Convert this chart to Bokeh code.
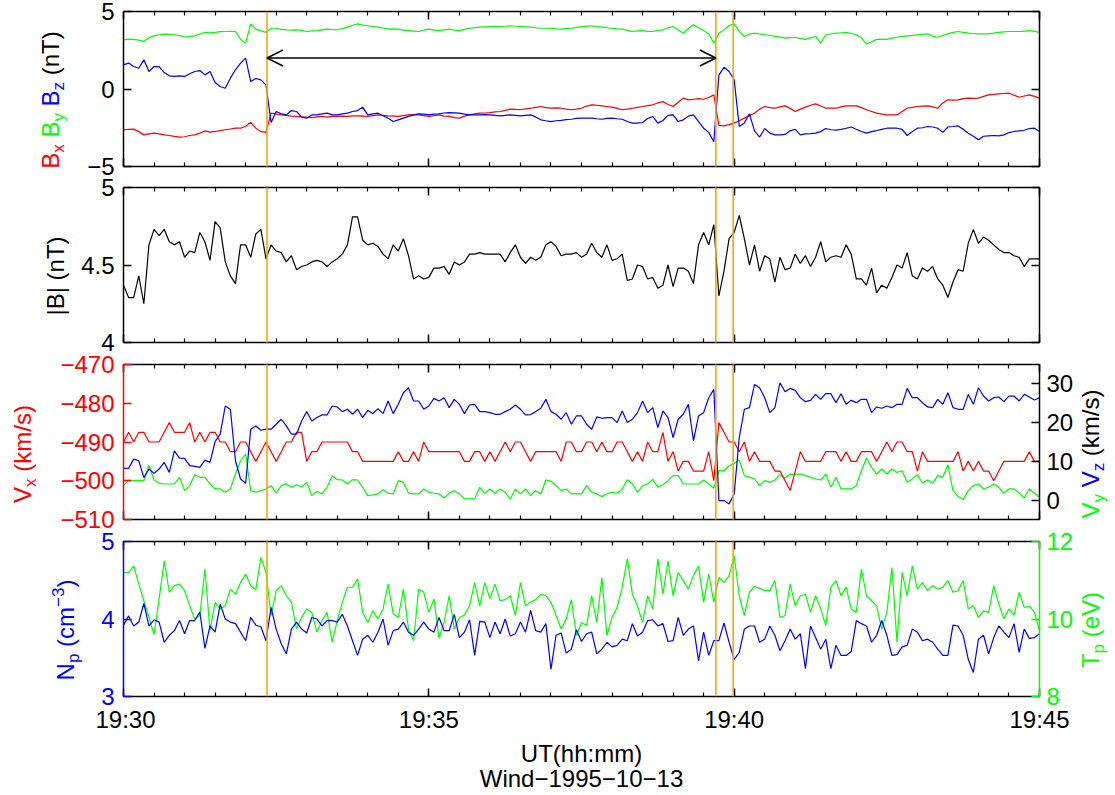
import math
import numpy as np
from bokeh.plotting import figure
from bokeh.layouts import column, row
from bokeh.models import Range1d, LinearAxis, FixedTicker, Arrow, OpenHead, Label
from bokeh.embed import file_html
from bokeh.resources import INLINE

# ---------------- data (sampled every 5 s from 19:30:00) ----------------
DT_SEC = 5
bx = [-2.63, -2.60, -2.59, -2.75, -2.96, -2.90, -2.85, -2.90, -2.96, -3.00,
      -3.06, -3.10, -3.08, -3.00, -2.96, -2.85, -2.70, -2.78, -2.74, -2.68,
      -2.63, -2.58, -2.53, -2.53, -2.40, -2.15, -2.53, -2.75, -2.80, -1.56,
      -1.60, -1.67, -1.70, -1.75, -1.77, -1.80, -1.82, -1.85, -1.80, -1.77,
      -1.82, -1.77, -1.77, -1.75, -1.77, -1.73, -1.73, -1.75, -1.77, -1.72,
      -1.67, -1.70, -1.73, -1.75, -1.77, -1.72, -1.67, -1.65, -1.67, -1.72,
      -1.77, -1.72, -1.67, -1.75, -1.77, -1.85, -1.88, -1.75, -1.67, -1.60,
      -1.56, -1.55, -1.52, -1.48, -1.45, -1.38, -1.30, -1.32, -1.34, -1.28,
      -1.24, -1.18, -1.13, -1.20, -1.24, -1.22, -1.24, -1.30, -1.34, -1.30,
      -1.24, -1.10, -1.02, -1.05, -1.09, -1.13, -1.17, -1.25, -1.34, -1.30,
      -1.24, -1.18, -1.13, -1.07, -1.02, -0.90, -0.81, -1.00, -1.13, -0.85,
      -0.59, -0.70, -0.66, -0.62, -0.66, -0.55, -0.38, -2.35, -2.38, -2.30,
      -2.20, -2.05, -1.88, -1.72, -1.56, -1.30, -1.13, -1.20, -1.24, -1.15,
      -1.09, -1.25, -1.45, -1.30, -1.17, -1.05, -0.96, -1.10, -1.24, -1.24,
      -1.24, -1.15, -1.09, -1.09, -1.09, -1.20, -1.34, -1.45, -1.56, -1.62,
      -1.67, -1.67, -1.67, -1.45, -1.24, -1.18, -1.13, -1.10, -1.09, -1.15,
      -1.24, -0.90, -0.70, -0.72, -0.70, -0.62, -0.59, -0.60, -0.59, -0.48,
      -0.38, -0.35, -0.31, -0.29, -0.27, -0.40, -0.53, -0.45, -0.38, -0.48,
      -0.59]
by = [3.17, 3.22, 3.20, 3.15, 3.06, 3.30, 3.43, 3.50, 3.54, 3.52,
      3.50, 3.45, 3.34, 3.40, 3.43, 3.55, 3.65, 3.62, 3.65, 3.70,
      3.71, 3.72, 3.71, 3.20, 2.96, 4.20, 3.86, 3.75, 3.65, 3.92,
      3.92, 3.85, 3.82, 3.80, 3.82, 3.78, 3.71, 3.75, 3.77, 3.82,
      3.86, 3.84, 3.82, 3.90, 3.99, 4.10, 4.20, 4.12, 4.08, 4.02,
      3.99, 3.92, 3.86, 3.88, 3.86, 3.80, 3.77, 3.74, 3.71, 3.80,
      3.86, 3.80, 3.77, 3.82, 3.86, 3.80, 3.77, 3.85, 3.92, 3.96,
      3.99, 4.01, 4.03, 4.05, 4.03, 4.05, 4.08, 4.05, 4.03, 4.01,
      3.99, 3.95, 3.92, 3.92, 3.92, 3.88, 3.86, 3.90, 3.92, 3.98,
      4.03, 4.06, 4.08, 4.03, 3.99, 3.95, 3.92, 3.88, 3.86, 3.78,
      3.71, 3.75, 3.77, 3.72, 3.71, 3.78, 3.82, 3.95, 4.03, 3.80,
      3.60, 3.90, 4.14, 3.95, 3.77, 3.55, 2.95, 3.60, 3.82, 4.10,
      4.20, 3.70, 3.39, 3.55, 3.60, 3.55, 3.50, 3.45, 3.39, 3.35,
      3.28, 3.32, 3.34, 3.25, 3.20, 3.30, 3.39, 2.96, 3.50, 3.55,
      3.60, 3.62, 3.65, 3.58, 3.50, 3.30, 2.90, 3.05, 3.20, 3.22,
      3.20, 3.28, 3.34, 3.40, 3.43, 3.46, 3.50, 3.53, 3.56, 3.40,
      3.34, 3.45, 3.56, 3.65, 3.71, 3.65, 3.60, 3.58, 3.56, 3.56,
      3.56, 3.60, 3.65, 3.68, 3.71, 3.71, 3.71, 3.74, 3.77, 3.72,
      3.65]
bz = [1.56, 1.67, 1.45, 1.34, 1.88, 1.13, 1.45, 1.45, 1.06, 0.85,
      0.81, 0.85, 0.81, 0.98, 1.13, 1.19, 0.91, 1.13, 0.42, 0.16,
      0.05, 0.70, 1.24, 1.67, 1.99, 0.48, 0.68, 0.59, 0.27, -2.16,
      -1.45, -1.60, -1.67, -1.39, -1.45, -1.82, -1.88, -1.67, -1.67, -1.60,
      -1.56, -1.67, -1.67, -1.60, -1.56, -1.45, -1.39, -1.17, -1.67, -1.60,
      -1.56, -1.73, -1.88, -2.10, -1.99, -1.88, -1.77, -1.67, -1.60, -1.62,
      -1.67, -1.62, -1.60, -1.55, -1.52, -1.54, -1.56, -1.62, -1.67, -1.67,
      -1.67, -1.65, -1.67, -1.70, -1.73, -1.70, -1.67, -1.70, -1.73, -1.70,
      -1.67, -1.80, -1.99, -2.05, -2.10, -2.05, -2.03, -1.98, -1.95, -1.90,
      -1.88, -1.88, -1.88, -1.92, -1.95, -1.90, -1.88, -1.92, -1.95, -2.10,
      -2.20, -2.20, -2.16, -1.90, -1.77, -2.20, -2.03, -1.70, -1.67, -2.10,
      -1.99, -1.75, -1.67, -2.10, -2.53, -2.80, -3.40, 0.90, 1.40, 1.13,
      0.60, -2.42, -2.20, -1.60, -2.70, -3.10, -2.55, -2.85, -2.96, -2.96,
      -2.93, -2.70, -2.60, -2.96, -2.90, -2.88, -2.85, -2.75, -2.55, -2.63,
      -2.65, -2.60, -2.53, -2.45, -2.60, -2.74, -2.85, -2.75, -2.68, -2.60,
      -2.53, -2.53, -2.53, -2.60, -3.00, -2.75, -2.53, -2.50, -2.42, -2.45,
      -2.53, -2.80, -2.45, -2.42, -2.38, -2.60, -2.85, -3.05, -3.28, -3.05,
      -3.02, -3.00, -3.02, -2.96, -2.81, -2.74, -2.70, -2.66, -2.55, -2.53,
      -2.74]
bmag = [4.37, 4.29, 4.29, 4.43, 4.25, 4.63, 4.73, 4.69, 4.73, 4.65,
        4.63, 4.65, 4.55, 4.59, 4.58, 4.71, 4.65, 4.53, 4.78, 4.74,
        4.52, 4.43, 4.38, 4.63, 4.63, 4.55, 4.70, 4.73, 4.54, 4.63,
        4.59, 4.58, 4.52, 4.56, 4.47, 4.49, 4.50, 4.52, 4.53, 4.52,
        4.49, 4.52, 4.54, 4.57, 4.63, 4.81, 4.81, 4.66, 4.63, 4.64,
        4.62, 4.57, 4.54, 4.63, 4.59, 4.67, 4.56, 4.41, 4.43, 4.41,
        4.42, 4.48, 4.48, 4.49, 4.44, 4.52, 4.50, 4.52, 4.57, 4.57,
        4.58, 4.57, 4.57, 4.57, 4.57, 4.52, 4.58, 4.63, 4.55, 4.51,
        4.55, 4.53, 4.55, 4.63, 4.65, 4.62, 4.56, 4.57, 4.57, 4.58,
        4.55, 4.57, 4.64, 4.58, 4.55, 4.63, 4.53, 4.54, 4.57, 4.40,
        4.41, 4.50, 4.49, 4.41, 4.42, 4.35, 4.37, 4.50, 4.36, 4.48,
        4.48, 4.46, 4.38, 4.63, 4.71, 4.63, 4.76, 4.30, 4.46, 4.67,
        4.71, 4.82, 4.67, 4.50, 4.63, 4.46, 4.56, 4.54, 4.39, 4.55,
        4.47, 4.48, 4.57, 4.51, 4.56, 4.49, 4.55, 4.65, 4.52, 4.55,
        4.56, 4.55, 4.63, 4.57, 4.41, 4.41, 4.37, 4.48, 4.32, 4.37,
        4.35, 4.42, 4.50, 4.48, 4.58, 4.43, 4.41, 4.48, 4.46, 4.49,
        4.41, 4.37, 4.29, 4.39, 4.47, 4.46, 4.64, 4.73, 4.64, 4.68,
        4.66, 4.63, 4.60, 4.58, 4.58, 4.56, 4.55, 4.49, 4.54, 4.54,
        4.54]
vx = [-490, -487.5, -490, -487.5, -487.5, -490, -490, -490, -487.5, -485,
      -487.5, -487.5, -487.5, -485, -490, -487.5, -490, -487.5, -487.5, -490,
      -490, -492.5, -492.5, -490, -490, -492.5, -495, -492.5, -490, -492.5,
      -495, -492.5, -490, -490, -487.5, -487.5, -495, -492.5, -492.5, -490,
      -490, -490, -490, -490, -490, -492.5, -492.5, -495, -495, -495,
      -495, -495, -495, -495, -492.5, -495, -495, -492.5, -495, -490,
      -492.5, -492.5, -492.5, -492.5, -492.5, -492.5, -492.5, -495, -495, -492.5,
      -492.5, -495, -492.5, -495, -492.5, -490, -492.5, -490, -490, -492.5,
      -495, -492.5, -492.5, -492.5, -492.5, -492.5, -495, -490, -490, -492.5,
      -492.5, -490, -490, -492.5, -490, -492.5, -492.5, -490, -490, -492.5,
      -495, -492.5, -495, -490, -492.5, -492.5, -487.5, -495, -492.5, -497.5,
      -495, -495, -497.5, -497.5, -497.5, -492.5, -500, -485, -487.5, -490,
      -490, -492.5, -490, -495, -492.5, -495, -495, -495, -497.5, -497.5,
      -500, -502.5, -497.5, -492.5, -495, -495, -495, -495, -492.5, -492.5,
      -492.5, -495, -492.5, -495, -495, -492.5, -492.5, -492.5, -495, -492.5,
      -490, -492.5, -490, -490, -492.5, -492.5, -497.5, -492.5, -495, -495,
      -495, -495, -495, -495, -492.5, -497.5, -495, -497.5, -495, -497.5,
      -497.5, -500, -497.5, -495, -495, -495, -495, -495, -492.5, -495,
      -495]
vy = [3.74, 5.11, 5.02, 5.11, 5.02, 9.00, 5.19, 4.34, 4.16, 4.16,
      4.16, 5.88, 2.45, 3.74, 6.56, 5.88, 5.88, 4.16, 2.88, 2.88,
      2.02, 2.88, 6.73, 10.16, 11.87, 2.45, 2.02, 2.45, 2.88, 3.74,
      1.77, 3.74, 4.16, 3.31, 3.99, 3.31, 4.59, 1.17, 2.28, 1.60,
      3.31, 6.31, 5.28, 5.19, 4.16, 5.28, 5.19, 3.31, 1.17, 1.34,
      1.60, 2.71, 1.77, 1.60, 5.02, 4.59, 1.77, 1.60, 1.60, 2.88,
      2.02, 1.77, 1.60, 0.57, 1.77, 2.45, 1.60, 0.31, 0.31, 0.31,
      3.31, 1.77, 2.88, 1.77, 2.88, 2.02, 0.22, 2.88, 1.60, 2.88,
      1.17, 2.45, 1.60, 5.19, 4.85, 3.74, 2.45, 2.88, 1.60, 1.60,
      1.60, 3.74, 2.02, 1.60, 0.91, 1.60, 2.02, 1.77, 2.88, 5.28,
      4.16, 2.02, 3.74, 4.16, 5.36, 3.31, 3.99, 5.02, 6.31, 6.31,
      4.16, 4.16, 4.16, 4.16, 5.19, 4.16, 3.05, 7.59, 7.59, 8.88,
      9.48, 10.33, 6.31, 5.88, 5.45, 3.74, 5.02, 4.59, 5.19, 6.56,
      5.71, 6.73, 6.56, 6.73, 6.31, 5.88, 5.45, 5.19, 6.73, 3.31,
      5.88, 2.88, 2.88, 2.88, 3.74, 7.59, 10.85, 8.45, 6.73, 8.02,
      6.73, 8.02, 7.16, 7.59, 4.59, 5.45, 6.56, 4.34, 5.19, 4.34,
      6.31, 5.88, 9.13, 2.45, 0.91, 0.14, 2.45, 3.74, 4.16, 2.88,
      3.31, 4.16, 3.31, 1.77, 2.88, 2.88, 1.77, 0.57, 2.88, 1.77,
      0.74]
vz = [8.19, 8.19, 10.59, 10.16, 5.80, 8.02, 6.91, 8.02, 9.73, 7.16,
      12.73, 10.85, 10.76, 8.88, 8.70, 8.45, 10.33, 9.73, 15.13, 17.01,
      24.29, 23.44, 10.16, 5.45, 4.34, 18.30, 19.15, 18.04, 18.30, 18.30,
      19.58, 20.87, 19.15, 17.01, 17.01, 20.44, 22.84, 20.44, 21.30, 21.98,
      21.98, 24.29, 24.04, 22.84, 23.44, 22.15, 23.44, 21.30, 23.18, 22.32,
      23.61, 22.32, 25.58, 22.32, 24.72, 27.72, 29.00, 25.58, 25.58, 23.44,
      24.29, 26.26, 25.58, 26.43, 23.87, 26.01, 24.72, 22.32, 24.55, 24.72,
      22.84, 22.84, 22.58, 22.15, 22.15, 22.84, 23.44, 24.55, 23.44, 21.98,
      22.07, 22.84, 23.70, 26.01, 22.84, 22.15, 20.87, 22.58, 19.58, 21.72,
      21.72, 19.58, 18.30, 21.47, 21.12, 21.30, 21.30, 20.01, 23.01, 20.01,
      20.87, 22.58, 25.58, 22.58, 23.87, 18.73, 23.01, 21.30, 16.16, 20.87,
      22.15, 24.72, 15.30, 21.72, 22.58, 26.43, 28.58, -0.12, -0.12, -0.97,
      1.60, 16.16, 23.44, 23.87, 29.86, 29.00, 26.43, 22.58, 23.87, 30.29,
      27.98, 28.83, 28.32, 26.43, 25.41, 25.75, 27.29, 26.01, 27.46, 27.46,
      25.15, 27.46, 24.72, 25.75, 25.15, 26.01, 26.01, 22.58, 24.04, 23.70,
      24.29, 23.87, 24.72, 24.72, 28.83, 26.43, 26.43, 25.15, 24.04, 23.87,
      26.01, 24.72, 27.72, 23.87, 23.44, 23.44, 27.29, 24.72, 29.00, 26.86,
      25.58, 26.43, 26.61, 25.41, 26.86, 26.86, 25.58, 27.29, 26.61, 25.83,
      26.43]
n_p = [3.92, 4.04, 3.91, 3.96, 4.20, 3.91, 3.99, 3.96, 3.70, 3.79,
       3.85, 3.98, 3.81, 3.98, 3.98, 4.09, 3.62, 3.91, 3.83, 4.19,
       4.00, 3.96, 3.94, 3.83, 3.72, 4.02, 3.92, 3.90, 3.72, 4.15,
       3.87, 3.68, 3.55, 3.87, 3.96, 3.87, 3.82, 4.02, 4.00, 3.91,
       3.98, 3.98, 3.96, 4.06, 3.91, 3.72, 3.53, 3.74, 3.79, 3.70,
       3.83, 4.00, 3.66, 3.85, 3.87, 3.96, 3.83, 3.79, 3.87, 3.96,
       3.87, 3.83, 4.02, 3.85, 3.85, 4.06, 3.76, 3.83, 3.99, 3.53,
       3.97, 3.96, 3.76, 3.96, 3.81, 4.00, 3.78, 3.81, 3.96, 3.83,
       4.11, 3.85, 3.83, 3.94, 3.35, 3.79, 3.82, 3.56, 3.61, 3.86,
       3.71, 3.81, 3.83, 3.55, 3.61, 3.70, 3.64, 3.66, 3.74, 3.72,
       3.94, 3.78, 3.83, 3.98, 3.99, 3.91, 3.94, 3.71, 3.72, 4.02,
       3.79, 3.87, 3.91, 3.46, 3.83, 3.53, 3.72, 3.72, 3.95, 3.70,
       3.48, 3.57, 3.87, 3.91, 3.91, 3.70, 3.74, 3.91, 3.79, 3.59,
       3.72, 3.87, 3.74, 3.81, 3.36, 3.91, 3.76, 3.61, 3.74, 3.36,
       3.66, 3.53, 3.53, 3.58, 3.98, 3.94, 3.91, 3.70, 3.79, 3.98,
       3.79, 3.53, 3.54, 3.64, 3.66, 3.87, 3.83, 3.72, 3.74, 3.70,
       3.61, 3.53, 3.53, 3.92, 3.91, 3.79, 3.48, 3.31, 3.74, 3.79,
       3.55, 3.76, 3.91, 3.83, 3.76, 3.94, 3.57, 3.87, 3.75, 3.76,
       3.81]
t_p = [11.20, 11.20, 11.37, 10.90, 10.47, 10.04, 9.60, 10.52, 11.50, 10.69,
       10.86, 10.90, 10.73, 10.34, 10.00, 10.09, 11.29, 9.70, 10.43, 10.26,
       10.34, 10.77, 10.64, 10.94, 11.16, 10.86, 10.75, 11.59, 11.20, 10.09,
       10.73, 10.86, 10.60, 10.43, 9.74, 10.04, 10.26, 10.17, 9.66, 9.96,
       10.17, 9.40, 9.96, 10.43, 10.82, 10.82, 11.03, 10.17, 9.91, 10.21,
       10.00, 10.26, 10.90, 10.13, 10.04, 10.77, 9.74, 9.44, 10.77, 10.69,
       10.17, 10.52, 9.50, 9.91, 10.60, 9.74, 10.04, 10.10, 10.34, 10.94,
       10.34, 10.94, 10.52, 10.90, 10.47, 10.50, 10.60, 10.09, 10.94, 10.34,
       10.43, 10.50, 10.64, 10.60, 10.43, 10.09, 9.74, 10.00, 10.50, 9.57,
       9.91, 9.83, 10.60, 9.91, 11.07, 9.57, 10.04, 10.30, 10.82, 11.55,
       10.64, 10.34, 9.91, 10.60, 10.26, 11.55, 10.64, 11.50, 10.60, 11.20,
       10.99, 10.77, 11.12, 11.37, 10.43, 11.16, 10.43, 11.07, 10.94, 11.12,
       11.63, 10.60, 10.09, 10.69, 10.84, 10.79, 10.73, 10.73, 10.99, 10.04,
       10.09, 10.90, 10.34, 10.60, 10.64, 10.17, 10.60, 10.26, 9.83, 10.82,
       10.99, 10.60, 10.82, 10.26, 10.17, 11.29, 10.60, 10.47, 10.34, 9.74,
       10.17, 11.33, 9.40, 11.20, 10.60, 11.37, 10.77, 10.94, 10.73, 10.86,
       10.77, 10.82, 10.99, 10.69, 10.73, 10.99, 10.26, 10.34, 10.04, 10.21,
       10.17, 10.86, 10.39, 10.00, 10.26, 10.10, 10.69, 10.30, 10.33, 10.17,
       9.70]
event_times = ["19:32:21", "19:39:42", "19:39:59"]
arrow_times = ["19:32:21", "19:39:42"]
arrow_level = 2.0
xtick_vals = [0, 5, 10, 15]
xtick_labels = ["19:30", "19:35", "19:40", "19:45"]

# ---------------- styling / layout ----------------
FONT = "Liberation Sans"
FS, FSUB = 24, 17
MID = 0.3465            # observed offset (em) between the label anchor and the baseline
FRAME_L, FW, FH = 123, 916, 155
SPLIT_R = 1076
PAGE_W = 1115
RED, GRN, BLU, BLK, ORG = "#ff0000", "#00ff00", "#0000ff", "#000000", "#ffa500"

def hms_to_min(s):
    h, m, sec = (int(v) for v in s.split(":"))
    return (h * 3600 + m * 60 + sec - (19 * 3600 + 30 * 60)) / 60.0

def tgrid(series):
    return np.arange(len(series)) * DT_SEC / 60.0

xr = Range1d(0, 15)

def clean(p):
    p.outline_line_color = None
    p.background_fill_color = "white"
    p.border_fill_color = "white"
    p.xgrid.visible = False
    p.ygrid.visible = False

def base_fig(ylo, yhi, top, bottom, split_l):
    p = figure(frame_width=FW, frame_height=FH, x_range=xr, y_range=Range1d(ylo, yhi),
               x_axis_location=None, y_axis_location=None, output_backend="svg",
               toolbar_location=None, title=None, min_border_left=FRAME_L - split_l,
               min_border_right=SPLIT_R - FRAME_L - FW, min_border_top=top,
               min_border_bottom=bottom)
    clean(p)
    return p

def text_fig(width, height):
    f = figure(frame_width=width, frame_height=height, x_range=Range1d(0, 1),
               y_range=Range1d(0, 1), x_axis_location=None, y_axis_location=None,
               output_backend="svg", toolbar_location=None, title=None,
               min_border=0, min_border_left=0, min_border_right=0,
               min_border_top=0, min_border_bottom=0)
    clean(f)
    return f

def hide_labels(ax):
    ax.major_label_text_color = None
    ax.major_label_text_font_size = "1px"
    ax.major_label_standoff = 0

def add_xaxes(p, labels=False):
    minors = [i * 0.5 for i in range(31)]
    for loc in ("above", "below"):
        ax = LinearAxis(ticker=FixedTicker(ticks=xtick_vals, minor_ticks=minors))
        ax.major_tick_in, ax.major_tick_out = 8, 0
        ax.minor_tick_in, ax.minor_tick_out = 4, 0
        ax.axis_line_width = 1.5
        ax.major_tick_line_width = 1.5
        ax.minor_tick_line_width = 1.2
        if labels and loc == "below":
            ax.major_label_overrides = dict(zip(xtick_vals, xtick_labels))
            ax.major_label_text_font = FONT
            ax.major_label_text_font_size = f"{FS}px"
            ax.major_label_text_color = BLK
            ax.major_label_standoff = 9
        else:
            hide_labels(ax)
        p.add_layout(ax, loc)

def add_yaxis(p, loc, ticks, labels, color, rname="default", standoff=9):
    ax = LinearAxis(ticker=FixedTicker(ticks=ticks), y_range_name=rname)
    ax.axis_line_color = color
    ax.axis_line_width = 1.5
    ax.major_tick_line_color = color
    ax.major_tick_line_width = 1.5
    ax.major_tick_in, ax.major_tick_out = 8, 0
    ax.minor_tick_line_color = None
    if labels:
        ax.major_label_overrides = dict(zip(ticks, labels))
        ax.major_label_text_font = FONT
        ax.major_label_text_font_size = f"{FS}px"
        ax.major_label_text_color = color
        ax.major_label_standoff = standoff
    else:
        hide_labels(ax)
    p.add_layout(ax, loc)

CW = {'B': 667, 'x': 500, 'y': 500, 'z': 500, ' ': 278, '(': 333, ')': 333, 'n': 556,
      'T': 611, '|': 260, 'V': 667, 'k': 500, 'm': 833, 's': 500, '/': 278, 'N': 722,
      'p': 556, 'c': 500, '\u2212': 584, '3': 556, 'e': 556}

def tlen(s, size):
    return sum(CW[c] for c in s) * size / 1000.0

def vtitle(f, pieces, xb, yc):
    sizes = [FS if k == 0 else FSUB for _, _, k in pieces]
    total = sum(tlen(s, sz) for (s, _, _), sz in zip(pieces, sizes))
    y = yc - total / 2
    for (s, col, k), sz in zip(pieces, sizes):
        dx = {0: 0, 1: 6, 2: -10}[k]
        if s.strip():
            f.add_layout(Label(x=xb + dx - MID * sz, y=y, x_units="screen", y_units="screen",
                               text=s, angle=math.pi / 2, text_font=FONT,
                               text_font_size=f"{sz}px", text_color=col, text_align="left",
                               text_baseline="alphabetic"))
        y += tlen(s, sz)

def add_events(p, ylo, yhi, top_ext=True, bot_ext=True):
    span = yhi - ylo
    y0 = yhi + (0.3 * span if top_ext else 0)
    y1 = ylo - (0.3 * span if bot_ext else 0)
    for s in event_times:
        xm = hms_to_min(s)
        p.add_layout(Arrow(end=None, start=None, x_start=xm, y_start=y0, x_end=xm, y_end=y1,
                           line_color=ORG, line_width=1.6))

def panel_row(p, top, bottom, split_l, left_pieces, left_x, right_pieces=None):
    h = top + FH + bottom
    yc = bottom + FH / 2
    lf = text_fig(split_l, h)
    vtitle(lf, left_pieces, left_x, yc)
    rf = text_fig(PAGE_W - SPLIT_R, h)
    if right_pieces:
        vtitle(rf, right_pieces, 1098 - SPLIT_R, yc)
    return row(lf, p, rf, spacing=0)

# ---------------- panel 1 : B components ----------------
T1, B1, S1 = 11, 10, 75
p1 = base_fig(-5, 5, T1, B1, S1)
p1.line(tgrid(bx), bx, line_color=RED, line_width=1.2)
p1.line(tgrid(by), by, line_color=GRN, line_width=1.2)
p1.line(tgrid(bz), bz, line_color=BLU, line_width=1.2)
add_xaxes(p1)
add_yaxis(p1, "left", [-5, 0, 5], ["\u22125", "0", "5"], BLK)
add_yaxis(p1, "right", [-5, 0, 5], None, BLK)
add_events(p1, -5, 5, top_ext=False)
a1, a2 = (hms_to_min(s) for s in arrow_times)
p1.add_layout(Arrow(start=OpenHead(size=16, line_width=1.5), end=OpenHead(size=16, line_width=1.5),
                    x_start=a1, y_start=arrow_level, x_end=a2, y_end=arrow_level,
                    line_width=1.5, line_color=BLK))
r1 = panel_row(p1, T1, B1, S1,
               [("B", RED, 0), ("x", RED, 1), (" ", BLK, 0), ("B", GRN, 0), ("y", GRN, 1),
                (" ", BLK, 0), ("B", BLU, 0), ("z", BLU, 1), (" ", BLK, 0), ("(nT)", BLK, 0)], 58)

# ---------------- panel 2 : |B| ----------------
T2, B2, S2 = 11, 10, 76
p2 = base_fig(4, 5, T2, B2, S2)
p2.line(tgrid(bmag), bmag, line_color=BLK, line_width=1.2)
add_xaxes(p2)
add_yaxis(p2, "left", [4, 4.5, 5], ["4", "4.5", "5"], BLK)
add_yaxis(p2, "right", [4, 4.5, 5], None, BLK)
add_events(p2, 4, 5)
r2 = panel_row(p2, T2, B2, S2, [("|B| (nT)", BLK, 0)], 63)

# ---------------- panel 3 : velocity ----------------
T3, B3, S3 = 12, 11, 52
p3 = base_fig(-510, -470, T3, B3, S3)
p3.extra_y_ranges = {"v": Range1d(-5, 35)}
p3.line(tgrid(vy), vy, line_color=GRN, line_width=1.2, y_range_name="v")
p3.line(tgrid(vx), vx, line_color=RED, line_width=1.2)
p3.line(tgrid(vz), vz, line_color=BLU, line_width=1.2, y_range_name="v")
add_xaxes(p3)
add_yaxis(p3, "left", [-510, -500, -490, -480, -470],
          ["\u2212510", "\u2212500", "\u2212490", "\u2212480", "\u2212470"], RED)
add_yaxis(p3, "right", [0, 10, 20, 30], ["0", "10", "20", "30"], BLK, rname="v", standoff=7)
add_events(p3, -510, -470)
r3 = panel_row(p3, T3, B3, S3,
               [("V", RED, 0), ("x", RED, 1), (" ", RED, 0), ("(km/s)", RED, 0)], 30,
               [("V", GRN, 0), ("y", GRN, 1), (" ", BLK, 0), ("V", BLU, 0), ("z", BLU, 1),
                (" ", BLK, 0), ("(km/s)", BLK, 0)])

# ---------------- panel 4 : density / temperature ----------------
T4, B4, S4 = 11, 48, 95
p4 = base_fig(3, 5, T4, B4, S4)
p4.extra_y_ranges = {"t": Range1d(8, 12)}
p4.line(tgrid(t_p), t_p, line_color=GRN, line_width=1.2, y_range_name="t")
p4.line(tgrid(n_p), n_p, line_color=BLU, line_width=1.2)
add_xaxes(p4, labels=True)
add_yaxis(p4, "left", [3, 4, 5], ["3", "4", "5"], BLU)
add_yaxis(p4, "right", [8, 10, 12], ["8", "10", "12"], GRN, rname="t", standoff=7)
add_events(p4, 3, 5, bot_ext=False)
r4 = panel_row(p4, T4, B4, S4,
               [("N", BLU, 0), ("p", BLU, 1), (" ", BLU, 0), ("(cm", BLU, 0), ("\u22123", BLU, 2),
                (")", BLU, 0)], 73,
               [("T", GRN, 0), ("p", GRN, 1), (" ", GRN, 0), ("(eV)", GRN, 0)])

# ---------------- x title strip ----------------
STRIP_H = 48
strip = text_fig(PAGE_W, STRIP_H)
for txt, base_from_bottom in (("UT(hh:mm)", 30.5), ("Wind\u22121995\u221210\u221213", 6)):
    strip.add_layout(Label(x=FRAME_L + FW / 2, y=base_from_bottom + MID * FS,
                           x_units="screen", y_units="screen",
                           text=txt, text_font=FONT, text_font_size=f"{FS}px",
                           text_align="center", text_baseline="alphabetic", text_color=BLK))

layout = column(r1, r2, r3, r4, strip, spacing=0)
open("out.html", "w").write(file_html(layout, INLINE))
